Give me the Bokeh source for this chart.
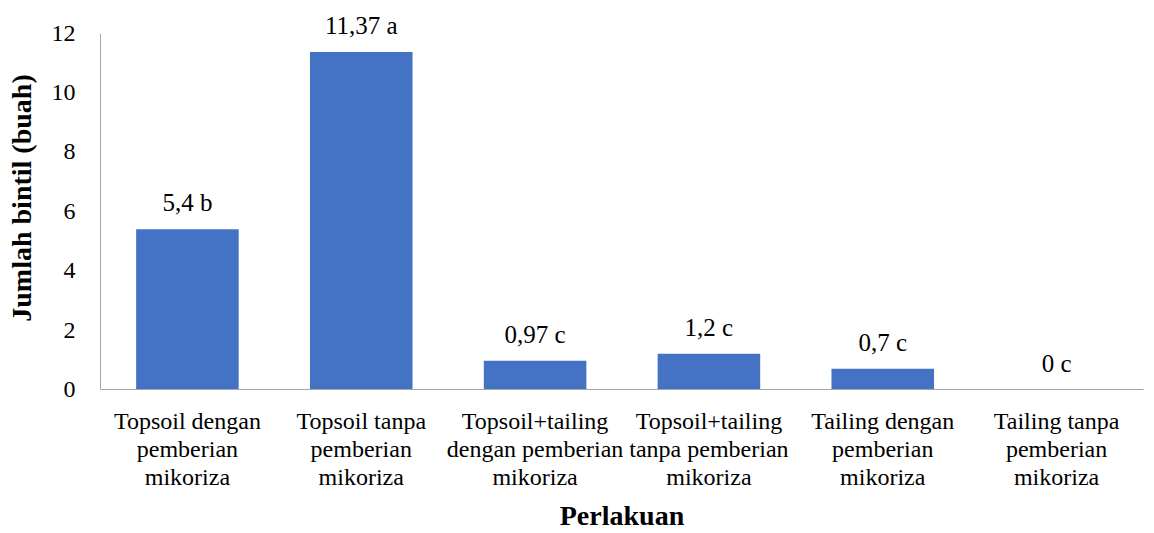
from bokeh.plotting import figure
from bokeh.models import FactorRange, Range1d, ColumnDataSource, FixedTicker, LabelSet
from bokeh.core.properties import value
from bokeh.embed import file_html
from bokeh.resources import INLINE

categories = [
    "Topsoil dengan\npemberian\nmikoriza",
    "Topsoil tanpa\npemberian\nmikoriza",
    "Topsoil+tailing\ndengan pemberian\nmikoriza",
    "Topsoil+tailing\ntanpa pemberian\nmikoriza",
    "Tailing dengan\npemberian\nmikoriza",
    "Tailing tanpa\npemberian\nmikoriza",
]
values = [5.4, 11.37, 0.97, 1.2, 0.7, 0.0]
labels = ["5,4 b", "11,37 a", "0,97 c", "1,2 c", "0,7 c", "0 c"]
y_ticks = [0, 2, 4, 6, 8, 10, 12]

FONT = "Liberation Serif"
AXIS_COLOR = "#a6a6a6"

src = ColumnDataSource(dict(x=categories, y=values, label=labels))

p = figure(
    x_range=FactorRange(*categories, range_padding=0),
    y_range=Range1d(0, 12.9),
    width=1146, height=533,
    output_backend="svg", toolbar_location=None,
    min_border_left=100, min_border_right=3,
    min_border_top=6, min_border_bottom=143,
)
p.outline_line_color = None
p.grid.grid_line_color = None
p.background_fill_color = "white"
p.border_fill_color = "white"

p.vbar(x="x", top="y", width=0.59, bottom=0, source=src,
       fill_color="#4472C4", line_color=None)

value_labels = LabelSet(x="x", y="y", text="label", source=src,
                        text_align="center", text_baseline="bottom", y_offset=13,
                        text_font=value(FONT), text_font_size="25px", text_color="#000000")
p.add_layout(value_labels)

# y axis
p.yaxis.ticker = FixedTicker(ticks=y_ticks)
p.yaxis.bounds = (0, 12)
p.yaxis.minor_tick_line_color = None
p.yaxis.major_tick_line_color = None
p.yaxis.axis_line_color = AXIS_COLOR
p.yaxis.major_label_standoff = 19
p.yaxis.major_label_text_font = FONT
p.yaxis.major_label_text_font_size = "24px"
p.yaxis.major_label_text_color = "#000000"
p.yaxis.axis_label = "Jumlah bintil (buah)"
p.yaxis.axis_label_text_font = FONT
p.yaxis.axis_label_text_font_size = "28px"
p.yaxis.axis_label_text_font_style = "bold"
p.yaxis.axis_label_text_color = "#000000"
p.yaxis.axis_label_standoff = 12

# x axis
p.xaxis.major_tick_line_color = None
p.xaxis.minor_tick_line_color = None
p.xaxis.axis_line_color = AXIS_COLOR
p.xaxis.major_label_standoff = 12
p.xaxis.major_label_text_font = FONT
p.xaxis.major_label_text_font_size = "24px"
p.xaxis.major_label_text_color = "#000000"
p.xaxis.major_label_text_line_height = 1.08
p.xaxis.axis_label = "Perlakuan"
p.xaxis.axis_label_text_font = FONT
p.xaxis.axis_label_text_font_size = "28px"
p.xaxis.axis_label_text_font_style = "bold"
p.xaxis.axis_label_text_color = "#000000"
p.xaxis.axis_label_standoff = 7

open("out.html", "w").write(file_html(p, INLINE))
